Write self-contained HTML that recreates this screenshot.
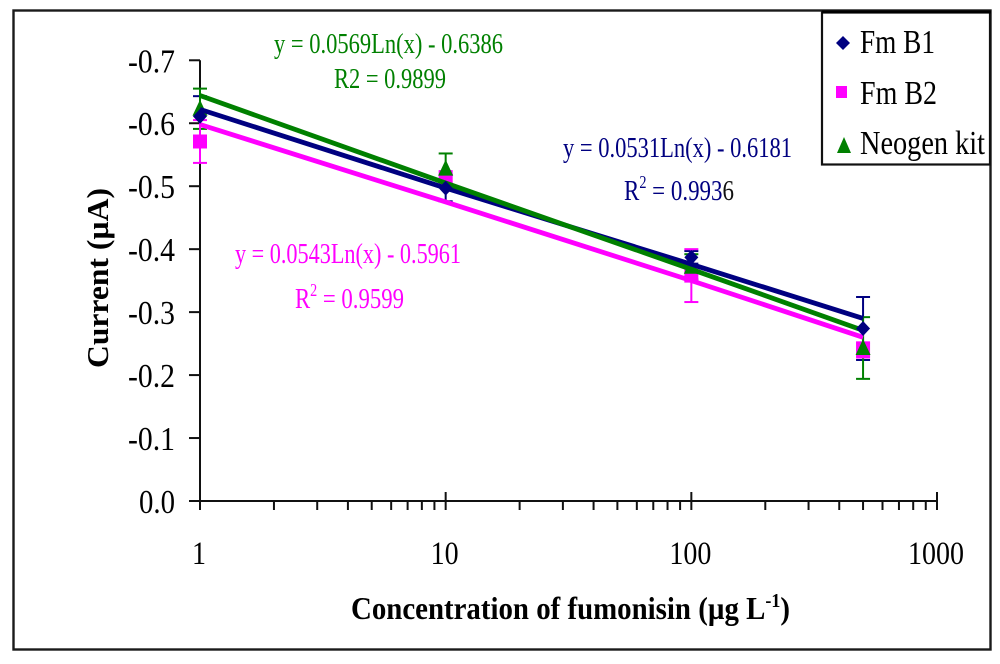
<!DOCTYPE html>
<html lang="en">
<head>
<meta charset="utf-8">
<title>Current vs concentration of fumonisin</title>
<style>
html,body{margin:0;padding:0;background:#fff;width:1000px;height:664px;overflow:hidden}
svg{display:block;filter:blur(.35px)}
text{font-family:"Liberation Serif","DejaVu Serif",serif}
</style>
</head>
<body>
<svg id="chart" xmlns="http://www.w3.org/2000/svg" width="1000" height="664" viewBox="0 0 1000 664">
  <rect x="13.5" y="10.5" width="977" height="639" fill="#fff" stroke="#1a1a1a" stroke-width="2.4"/>
  <g id="plot"></g>
  <text transform="translate(108,278) rotate(-90)" text-anchor="middle" font-size="31" font-weight="bold" textLength="180" lengthAdjust="spacingAndGlyphs" fill="#000">Current (µA)</text>
  <text x="351" y="619" font-size="32" font-weight="bold" fill="#000" textLength="439" lengthAdjust="spacingAndGlyphs">Concentration of fumonisin (µg L<tspan dy="-12" font-size="20">-1</tspan><tspan dy="12">)</tspan></text>

  <text x="274" y="53" font-size="29" fill="#008000" textLength="229" lengthAdjust="spacingAndGlyphs">y = 0.0569Ln(x) - 0.6386</text>
  <text x="334" y="88" font-size="29" fill="#008000" textLength="112" lengthAdjust="spacingAndGlyphs">R2 = 0.9899</text>
  <text x="563" y="157" font-size="29" fill="#000080" textLength="229" lengthAdjust="spacingAndGlyphs">y = 0.0531Ln(x) - 0.6181</text>
  <text x="624" y="200" font-size="29" fill="#000080" textLength="110" lengthAdjust="spacingAndGlyphs">R<tspan dy="-12" font-size="18">2</tspan><tspan dy="12"> = 0.993</tspan><tspan fill="#111">6</tspan></text>
  <text x="235" y="263" font-size="29" fill="#ff00ff" textLength="226" lengthAdjust="spacingAndGlyphs">y = 0.0543Ln(x) - 0.5961</text>
  <text x="295" y="308" font-size="29" fill="#ff00ff" textLength="109" lengthAdjust="spacingAndGlyphs">R<tspan dy="-12" font-size="18">2</tspan><tspan dy="12"> = 0.9599</tspan></text>

  <g>
    <rect x="822" y="12.5" width="168" height="152" fill="#fff" stroke="#111" stroke-width="2.2"/>
    <line x1="822" y1="12" x2="991" y2="12" stroke="#000" stroke-width="3"/>
    <polygon points="843,36 850,43 843,50 836,43" fill="#000080"/>
    <text x="860" y="53" font-size="34" fill="#000" textLength="75" lengthAdjust="spacingAndGlyphs">Fm B1</text>
    <rect x="836" y="86" width="11" height="12" fill="#ff00ff"/>
    <text x="860" y="104" font-size="34" fill="#000" textLength="77" lengthAdjust="spacingAndGlyphs">Fm B2</text>
    <polygon points="844,137 851,153 837,153" fill="#008000"/>
    <text x="860" y="154" font-size="34" fill="#000" textLength="125" lengthAdjust="spacingAndGlyphs">Neogen kit</text>
  </g>
</svg>
<script>
const concentrations = [1, 10, 100, 500];
const fmB1Values = [-0.611, -0.497, -0.387, -0.274];
const fmB1Errors = [0.032, 0.021, 0.01, 0.05];
const fmB2Values = [-0.571, -0.512, -0.358, -0.24];
const fmB2Errors = [0.034, 0.012, 0.042, 0.012];
const neogenValues = [-0.623, -0.528, -0.372, -0.243];
const neogenErrors = [0.032, 0.024, 0.02, 0.049];
const fmB1Trend = [-0.622, -0.497, -0.376, -0.29];
const fmB2Trend = [-0.598, -0.475, -0.35, -0.26];
const neogenTrend = [-0.644, -0.505, -0.368, -0.271];
const yTickValues = [-0.7, -0.6, -0.5, -0.4, -0.3, -0.2, -0.1, 0];
const yTickLabels = ['-0.7', '-0.6', '-0.5', '-0.4', '-0.3', '-0.2', '-0.1', '0.0'];
const xMajorTicks = [1, 10, 100, 1000];
const xTickLabels = ['1', '10', '100', '1000'];
const xMinorTicks = [2, 3, 4, 5, 6, 7, 8, 9, 20, 30, 40, 50, 60, 70, 80, 90, 200, 300, 400, 500, 600, 700, 800, 900];

const NS = 'http://www.w3.org/2000/svg';
const plot = document.getElementById('plot');
const xPos = v => 200 + 245.67 * Math.log10(v);
const yPos = v => 501 + 629.6 * v;

function make(tag, attrs) {
  const el = document.createElementNS(NS, tag);
  for (const k in attrs) el.setAttribute(k, attrs[k]);
  plot.appendChild(el);
  return el;
}
function seg(x1, y1, x2, y2, color, w) {
  return make('line', {x1, y1, x2, y2, stroke: color, 'stroke-width': w});
}

function drawAxes() {
  const yAxis = seg(200, yPos(-0.7), 200, 510, '#111', 2);
  
  
  const xAxis = seg(189, yPos(0), xPos(1000), yPos(0), '#111', 2);
  
  

  yTickValues.forEach((v, i) => {
    const t = seg(189, yPos(v), 200, yPos(v), '#111', 2);
    
    
    const label = yTickLabels[i];
    const lab = make('text', {x: 175, y: yPos(v) + 12, 'text-anchor': 'end', 'font-size': 34, fill: '#000',
      textLength: label.length === 4 ? 47 : 36, lengthAdjust: 'spacingAndGlyphs'});
    lab.textContent = label;
    
    
  });
  xMinorTicks.forEach(v => {
    const t = seg(xPos(v), yPos(0), xPos(v), 510, '#111', 2);
    
    
  });
  xMajorTicks.forEach((v, i) => {
    const t = seg(xPos(v), i === 0 ? yPos(0) : 492, xPos(v), 510, '#111', 2);
    
    
    const label = xTickLabels[i];
    const lab = make('text', {x: xPos(v) - 1, y: 564, 'text-anchor': 'middle', 'font-size': 33, fill: '#000',
      textLength: label.length * 14, lengthAdjust: 'spacingAndGlyphs'});
    lab.textContent = label;
    
    
  });
}

function drawErrors(values, errors, color, name) {
  values.forEach((v, i) => {
    const x = xPos(concentrations[i]);
    const hi = yPos(v - errors[i]);
    const lo = yPos(v + errors[i]);
    const bar = seg(x, hi, x, lo, color, 2);
    
    
    const capTop = seg(x - 7, hi, x + 7, hi, color, 2);
    
    
    const capBottom = seg(x - 7, lo, x + 7, lo, color, 2);
    
    
  });
}

function drawTrend(values, color, name) {
  const pts = values.map((v, i) => xPos(concentrations[i]) + ',' + yPos(v)).join(' ');
  const line = make('polyline', {points: pts, fill: 'none', stroke: color, 'stroke-width': 4.8, 'stroke-linejoin': 'round'});
  
  
}

function drawSquares(values) {
  values.forEach((v, i) => {
    const x = xPos(concentrations[i]), y = yPos(v);
    const m = make('rect', {x: x - 7, y: y - 7, width: 14, height: 14, fill: '#ff00ff'});
    
    
  });
}
function drawTriangles(values) {
  values.forEach((v, i) => {
    const x = xPos(concentrations[i]), y = yPos(v);
    const m = make('polygon', {points: [x, y - 9, x + 7.5, y + 7, x - 7.5, y + 7].join(' '), fill: '#008000'});
    
    
  });
}
function drawDiamonds(values) {
  values.forEach((v, i) => {
    const x = xPos(concentrations[i]), y = yPos(v);
    const m = make('polygon', {points: [x, y - 7.5, x + 7, y, x, y + 7.5, x - 7, y].join(' '), fill: '#000080'});
    
    
  });
}

drawAxes();
drawErrors(fmB1Values, fmB1Errors, '#000080', 'fm-b1');
drawErrors(neogenValues, neogenErrors, '#008000', 'neogen');
drawErrors(fmB2Values, fmB2Errors, '#ff00ff', 'fm-b2');
drawSquares(fmB2Values);
drawTriangles(neogenValues);
drawTrend(fmB2Trend, '#ff00ff', 'fm-b2');
drawTrend(fmB1Trend, '#000080', 'fm-b1');
drawTrend(neogenTrend, '#008000', 'neogen');
drawDiamonds(fmB1Values);
</script>
</body>
</html>
